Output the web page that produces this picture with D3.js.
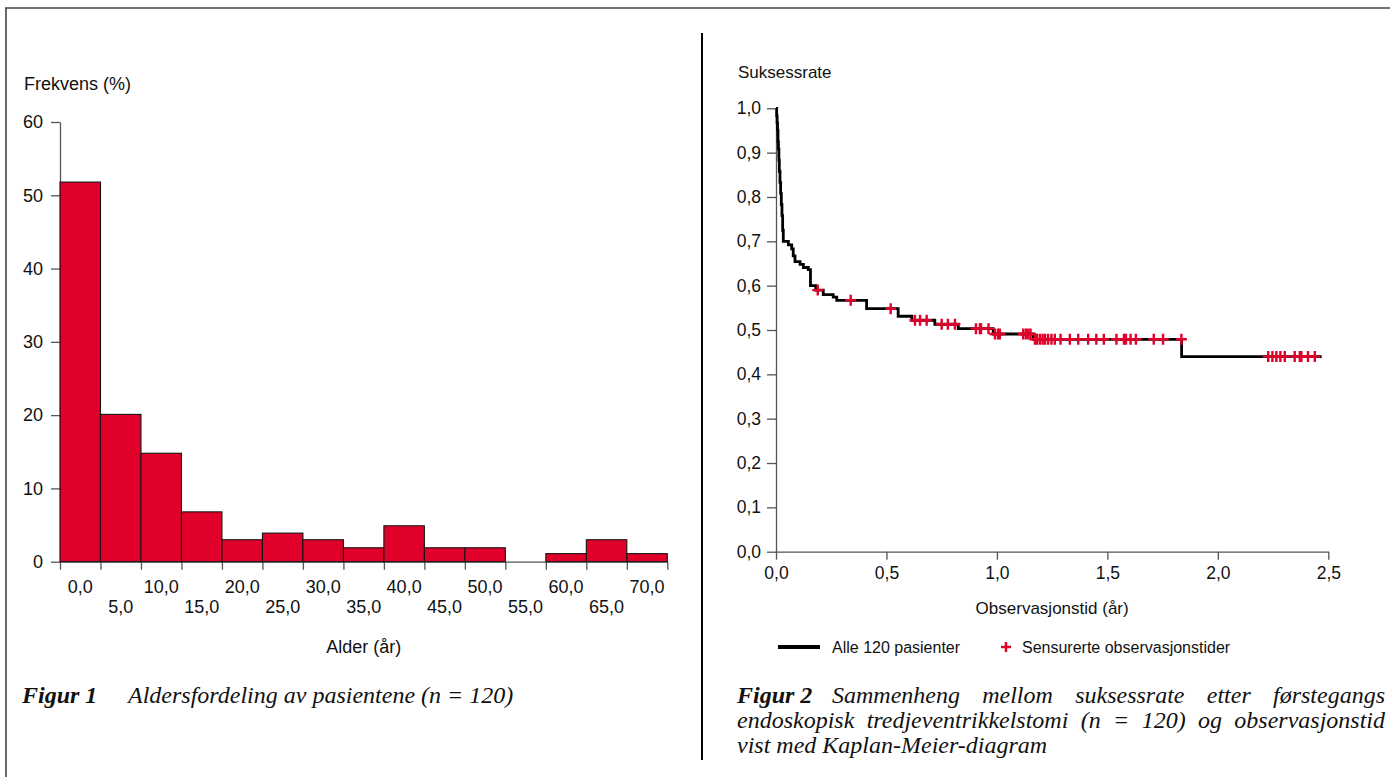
<!DOCTYPE html>
<meta charset="utf-8">
<script src="https://d3js.org/d3.v7.min.js"></script>
<style>
  body { margin: 0; background: #fff; }
  svg text { font-family: "Liberation Sans", Arial, sans-serif; fill: #111; }
  .caption text { font-family: "Liberation Serif", "Times New Roman", serif; font-style: italic; font-size: 24px; }
  .caption .fig { font-weight: bold; }
</style>
<div id="my_dataviz"></div>
<script>

// Figur 1 - aldersfordeling (prosent per 5-aars gruppe)
var ageEdges = [0, 5, 10, 15, 20, 25, 30, 35, 40, 45, 50, 55, 60, 65, 70, 75];
var ageLabels = ["0,0", "5,0", "10,0", "15,0", "20,0", "25,0", "30,0", "35,0",
  "40,0", "45,0", "50,0", "55,0", "60,0", "65,0", "70,0"];
var ageFreq = [51.8, 20.1, 14.8, 6.8, 3.0, 3.9, 3.0, 1.9, 4.9, 1.9, 1.9, 0, 1.1, 3.0, 1.1];
var freqTicks = [0, 10, 20, 30, 40, 50, 60];

// Figur 2 - Kaplan-Meier (tid i aar, suksessrate etter hvert steg)
var kmTime = [0.003, 0.005, 0.007, 0.009, 0.011, 0.013, 0.015, 0.018, 0.021, 0.024, 0.027, 0.030, 0.033,
  0.056, 0.071, 0.078, 0.086, 0.109, 0.124, 0.146, 0.156, 0.180, 0.214, 0.259, 0.275,
  0.410, 0.553, 0.615, 0.719, 0.825, 0.983, 1.164, 1.836];
var kmSurv = [0.983, 0.967, 0.950, 0.925, 0.908, 0.883, 0.858, 0.833, 0.808, 0.783, 0.758, 0.725, 0.700,
  0.692, 0.683, 0.667, 0.654, 0.648, 0.641, 0.636, 0.600, 0.590, 0.580, 0.574, 0.567,
  0.548, 0.531, 0.522, 0.513, 0.503, 0.491, 0.479, 0.440];
var kmEnd = 2.47;
var censorTimes = [0.189, 0.338, 0.519, 0.629, 0.652, 0.682, 0.750, 0.778, 0.810,
  0.905, 0.923, 0.928, 0.962, 0.991, 1.005, 1.013, 1.119, 1.131, 1.142, 1.152,
  1.172, 1.182, 1.195, 1.207, 1.218, 1.232, 1.247, 1.262, 1.288, 1.330, 1.368, 1.413,
  1.450, 1.484, 1.541, 1.575, 1.584, 1.605, 1.629, 1.710, 1.752, 1.835,
  2.228, 2.247, 2.265, 2.283, 2.303, 2.348, 2.371, 2.378, 2.408, 2.439];
var survTicks = [0, 0.1, 0.2, 0.3, 0.4, 0.5, 0.6, 0.7, 0.8, 0.9, 1.0];
var timeTicks = [0, 0.5, 1.0, 1.5, 2.0, 2.5];

var red = "#e0002a";
var comma = function (d) { return d3.format(".1f")(d).replace(".", ","); };

var svg = d3.select("#my_dataviz")
  .append("svg")
  .attr("width", 1390)
  .attr("height", 777);

// page frame and divider
svg.append("line").attr("x1", 5).attr("x2", 1390).attr("y1", 8).attr("y2", 8)
  .attr("stroke", "#444").attr("stroke-width", 1.6);
svg.append("line").attr("x1", 6).attr("x2", 6).attr("y1", 8).attr("y2", 777)
  .attr("stroke", "#444").attr("stroke-width", 1.6);
svg.append("line").attr("x1", 702).attr("x2", 702).attr("y1", 33).attr("y2", 760)
  .attr("stroke", "#000").attr("stroke-width", 2);

function styleAxis(g, size) {
  g.attr("font-size", size).attr("font-family", null);
  g.selectAll("path, line").attr("stroke", "#555").attr("stroke-width", 1.3);
}

// ---------- Figur 1 ----------
var x1 = d3.scaleLinear().domain([0, 75]).range([60, 667.3]);
var y1 = d3.scaleLinear().domain([0, 60]).range([561.7, 122]);

svg.append("g")
  .attr("transform", "translate(60,0)")
  .call(d3.axisLeft(y1).tickValues(freqTicks).tickSize(9).tickPadding(8).tickSizeOuter(0))
  .call(styleAxis, 18);

svg.append("g")
  .attr("transform", "translate(0,561.7)")
  .call(d3.axisBottom(x1).tickValues(ageEdges).tickFormat("").tickSize(8).tickSizeOuter(0))
  .call(styleAxis, 18);

var bins = ageFreq.map(function (v, i) { return { lo: ageEdges[i], hi: ageEdges[i + 1], v: v }; })
  .filter(function (d) { return d.v > 0; });

svg.append("g")
  .selectAll("rect")
  .data(bins)
  .join("rect")
  .attr("x", function (d) { return x1(d.lo); })
  .attr("width", function (d) { return x1(d.hi) - x1(d.lo); })
  .attr("y", function (d) { return y1(d.v); })
  .attr("height", function (d) { return y1(0) - y1(d.v); })
  .attr("fill", red)
  .attr("stroke", "#151515")
  .attr("stroke-width", 1.1);

svg.append("g")
  .selectAll("text")
  .data(ageLabels)
  .join("text")
  .attr("x", function (d, i) { return x1(ageEdges[i] + 2.5); })
  .attr("y", function (d, i) { return i % 2 ? 612.5 : 592.5; })
  .attr("text-anchor", "middle")
  .attr("font-size", 18)
  .text(function (d) { return d; });

svg.append("text").attr("x", 24).attr("y", 90).attr("font-size", 18).text("Frekvens (%)");
svg.append("text").attr("x", x1(37.5)).attr("y", 653).attr("text-anchor", "middle")
  .attr("font-size", 18).text("Alder (år)");

// ---------- Figur 2 ----------
var x2 = d3.scaleLinear().domain([0, 2.5]).range([776, 1328.3]);
var y2 = d3.scaleLinear().domain([0, 1]).range([551.7, 108.3]);

svg.append("g")
  .attr("transform", "translate(776,0)")
  .call(d3.axisLeft(y2).tickValues(survTicks).tickFormat(comma).tickSize(9).tickPadding(6).tickSizeOuter(0))
  .call(styleAxis, 17.5);

svg.append("g")
  .attr("transform", "translate(0,551.7)")
  .call(d3.axisBottom(x2).tickValues(timeTicks).tickFormat(comma).tickSize(8).tickPadding(7).tickSizeOuter(0))
  .call(styleAxis, 17.5);

var kmPoints = [[0, 1]];
kmTime.forEach(function (t, i) { kmPoints.push([t, kmSurv[i]]); });
kmPoints.push([kmEnd, kmSurv[kmSurv.length - 1]]);

var kmLine = d3.line()
  .x(function (d) { return x2(d[0]); })
  .y(function (d) { return y2(d[1]); })
  .curve(d3.curveStepAfter);

svg.append("path")
  .datum(kmPoints)
  .attr("d", kmLine)
  .attr("fill", "none")
  .attr("stroke", "#000")
  .attr("stroke-width", 2.8);

function survAt(t) {
  var i = d3.bisectRight(kmTime, t);
  return i === 0 ? 1 : kmSurv[i - 1];
}

svg.append("g")
  .selectAll("path")
  .data(censorTimes)
  .join("path")
  .attr("transform", function (d) { return "translate(" + x2(d) + "," + y2(survAt(d)) + ")"; })
  .attr("d", "M-5.5,0H5.5M0,-5.5V5.5")
  .attr("stroke", red)
  .attr("stroke-width", 2.4);

svg.append("text").attr("x", 738).attr("y", 78).attr("font-size", 17).text("Suksessrate");
svg.append("text").attr("x", x2(1.25)).attr("y", 614).attr("text-anchor", "middle")
  .attr("font-size", 17).text("Observasjonstid (år)");

// legend
var legend = svg.append("g").attr("font-size", 16);
legend.append("line").attr("x1", 778).attr("x2", 820).attr("y1", 647).attr("y2", 647)
  .attr("stroke", "#000").attr("stroke-width", 4);
legend.append("text").attr("x", 832).attr("y", 653).text("Alle 120 pasienter");
legend.append("path").attr("transform", "translate(1006,647)").attr("d", "M-5,0H5M0,-5V5")
  .attr("stroke", red).attr("stroke-width", 2.5);
legend.append("text").attr("x", 1022).attr("y", 653).text("Sensurerte observasjonstider");

// ---------- figurtekster ----------
function justify(g, words, from, to) {
  var t = g.selectAll(null).data(words).join("text").text(function (d) { return d; });
  var widths = t.nodes().map(function (n) { return n.getComputedTextLength(); });
  var gap = (to - from - d3.sum(widths)) / (words.length - 1);
  var pos = from;
  t.attr("x", function (d, i) { var p = pos; pos += widths[i] + gap; return p; });
}

var cap1 = svg.append("g").attr("class", "caption").attr("transform", "translate(22,703)");
cap1.append("text").attr("class", "fig").text("Figur 1");
cap1.append("text").attr("x", 128 - 22).text("Aldersfordeling av pasientene (n = 120)");

var capL1 = svg.append("g").attr("class", "caption").attr("transform", "translate(737,703)");
capL1.append("text").attr("class", "fig").text("Figur 2");
justify(capL1, ["Sammenheng", "mellom", "suksessrate", "etter", "førstegangs"], 832 - 737, 1385 - 737);

var capL2 = svg.append("g").attr("class", "caption").attr("transform", "translate(737,728)");
justify(capL2, ["endoskopisk", "tredjeventrikkelstomi", "(n", "=", "120)", "og", "observasjonstid"], 0, 1385 - 737);

var capL3 = svg.append("g").attr("class", "caption").attr("transform", "translate(737,753)");
capL3.append("text").text("vist med Kaplan-Meier-diagram");

</script>
